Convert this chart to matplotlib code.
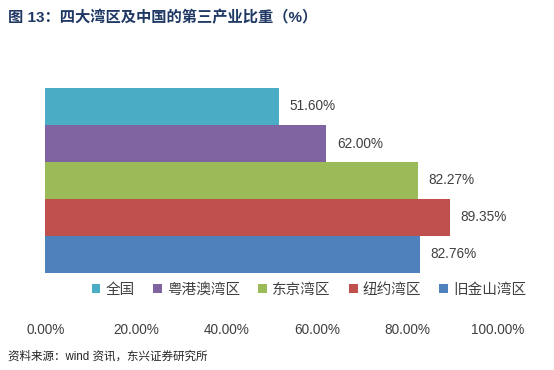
import matplotlib
matplotlib.use("Agg")
import matplotlib.pyplot as plt
from matplotlib.patches import Patch

plt.rcParams['font.family'] = ['Liberation Sans', 'Noto Sans CJK SC', 'DejaVu Sans']

regions = ['全国', '粤港澳湾区', '东京湾区', '纽约湾区', '旧金山湾区']
values = [51.60, 62.00, 82.27, 89.35, 82.76]
colors = ['#4BACC6', '#8064A2', '#9BBB59', '#C0504D', '#4F81BD']
xticks = [0, 20, 40, 60, 80, 100]
xticklabels = ['0.00%', '20.00%', '40.00%', '60.00%', '80.00%', '100.00%']
title = '图 13：四大湾区及中国的第三产业比重（%）'
source = '资料来源：wind 资讯，东兴证券研究所'

W, H = 554, 370
fig = plt.figure(figsize=(W / 100, H / 100), dpi=100)
ax = fig.add_axes([45.3 / W, 1 - 315 / H, 452.7 / W, 255 / H])

for i, (v, c) in enumerate(zip(values, colors)):
    ax.barh(i, v, height=1.0, color=c, edgecolor='none')
    ax.text(v + 2.4, i, f'{v:.2f}%', va='center', ha='left', fontsize=9.8, color='#404040')

ax.set_xlim(0, 100)
ax.set_ylim(4.5 + 42 / 37, -0.5 - 28 / 37)
ax.set_xticks(xticks)
ax.set_xticklabels(xticklabels, fontsize=9.8, color='#404040')
ax.tick_params(axis='x', length=0, pad=6)
ax.set_yticks([])
for s in ax.spines.values():
    s.set_visible(False)

handles = [Patch(facecolor=c, edgecolor='none', label=r) for r, c in zip(regions, colors)]
fig.legend(handles=handles, loc='center', bbox_to_anchor=(309 / W, 1 - 290 / H), ncol=5,
           frameon=False, fontsize=10.5, handlelength=0.6, handleheight=0.6,
           handletextpad=0.35, columnspacing=1.25, labelcolor='#404040')

fig.text(8 / W, 1 - 18 / H, title, fontsize=11, fontweight='bold', color='#1F3864',
         ha='left', va='center')
fig.text(8 / W, 1 - 357 / H, source, fontsize=8.3, color='#222222', ha='left', va='center')

fig.savefig('out.png', dpi=100)
